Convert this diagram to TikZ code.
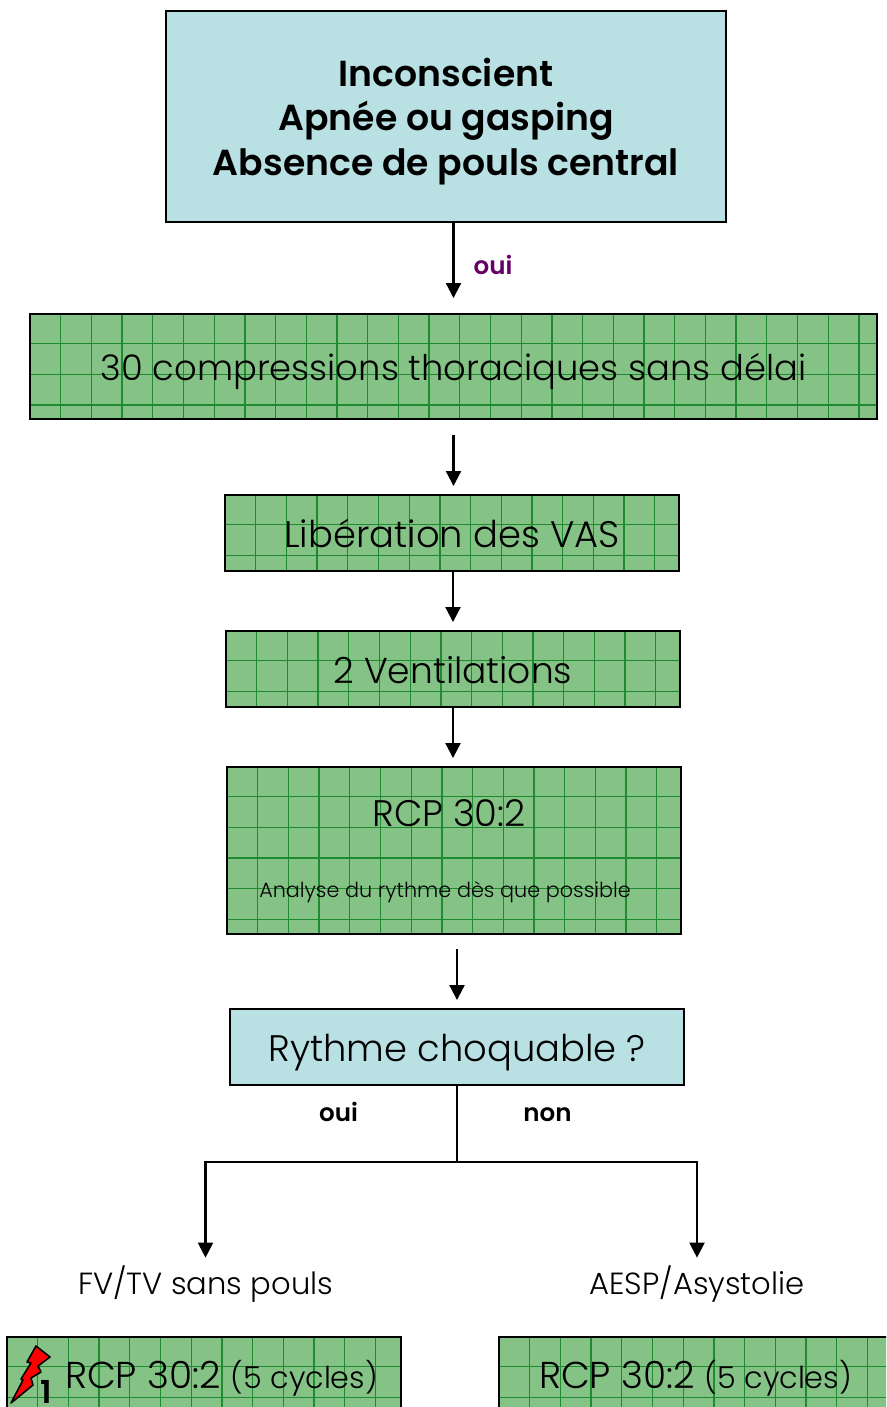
\documentclass[tikz,border=0pt]{standalone}
\usepackage{fontspec}
\setmainfont{Poppins Light}[BoldFont={Poppins SemiBold}]
\usetikzlibrary{arrows.meta,calc}
\definecolor{boxblue}{HTML}{B9E0E3}
\definecolor{boxgreen}{HTML}{85C285}
\definecolor{gridgreen}{HTML}{1F8A30}
\definecolor{ouipurple}{HTML}{660066}
\tikzset{
  bluebox/.style={shape=rectangle,draw=black,line width=1.1pt,fill=boxblue,inner sep=0pt},
  greenbox/.style={shape=rectangle,draw=black,line width=1.1pt,fill=boxgreen,inner sep=0pt,
    path picture={
      \foreach \gx in {1,...,28}{\draw[gridline] ($(path picture bounding box.north west)+(\gx*0.614,0)$) -- ++(0,-6);}
      \foreach \gy in {1,...,9}{\draw[gridline] ($(path picture bounding box.north west)+(0,-\gy*0.614+0.02)$) -- ++(18,0);}
    }},
  gridline/.style={draw=gridgreen,line width=0.7pt},
  flow/.style={line width=1.2pt,-{Triangle[width=0.3cm,length=0.3cm]}},
  plainflow/.style={line width=1.2pt},
  bigtext/.style={font=\fontsize{21}{25}\selectfont,text height=0.56cm,text depth=0pt},
  sidetext/.style={font=\fontsize{17.4}{20}\selectfont,text height=0.4cm,text depth=0pt},
  smalltext/.style={font=\fontsize{11.8}{14}\selectfont,text height=0.2cm,text depth=0pt},
  boldtext/.style={font=\fontsize{14}{16}\selectfont\bfseries,text height=0.36cm,text depth=0pt},
}
\begin{document}
\begin{tikzpicture}
            \useasboundingbox (0,0) rectangle (17.72,-28.14);
            \clip (0,0) rectangle (17.72,-28.14);

            % boxes
            \node[bluebox,minimum width=11.2cm,minimum height=4.22cm] (b1) at (8.92,-2.33) {};
            \node[greenbox,minimum width=16.94cm,minimum height=2.1cm,bigtext,font=\fontsize{20.1}{25}\selectfont] (b2) at (9.07,-7.33) {30 compressions thoraciques sans délai};
            \node[greenbox,minimum width=9.08cm,minimum height=1.52cm,bigtext] (b3) at (9.04,-10.66) {Libération des VAS};
            \node[greenbox,minimum width=9.08cm,minimum height=1.52cm,bigtext,font=\fontsize{20.5}{25}\selectfont] (b4) at (9.06,-13.38) {2 Ventilations};
            \node[greenbox,minimum width=9.08cm,minimum height=3.34cm] (b5) at (9.08,-17.01) {};
            \node[bluebox,minimum width=9.08cm,minimum height=1.52cm,bigtext] (b6) at (9.14,-20.94) {Rythme choquable ?};
            \node[greenbox,minimum width=7.88cm,minimum height=2.4cm] (b7) at (4.08,-27.94) {};
            \node[greenbox,minimum width=7.88cm,minimum height=2.4cm] (b8) at (13.92,-27.94) {};

            % texts
            \node[align=center,font=\fontsize{20.6}{25.3}\selectfont\bfseries] (t1) at (8.92,-2.43) {Inconscient\\Apnée ou gasping\\Absence de pouls central};
            \node[bigtext] (t5a) at (8.98,-16.24) {RCP 30:2};
            \node[smalltext] (t5b) at (8.9,-17.84) {Analyse du rythme dès que possible};
            \node[bigtext,font=\fontsize{21.3}{25}\selectfont] (t7) at (4.43,-27.48) {RCP 30:2 {\fontsize{17.2}{20}\selectfont (5 cycles)}};
            \node[bigtext,font=\fontsize{21.3}{25}\selectfont] (t8) at (13.91,-27.48) {RCP 30:2 {\fontsize{17.2}{20}\selectfont (5 cycles)}};
            \node[sidetext,minimum height=0.6cm,inner sep=0pt] (fv) at (4.11,-25.68) {FV/TV sans pouls};
            \node[sidetext,minimum height=0.6cm,inner sep=0pt] (ae) at (13.94,-25.68) {AESP/Asystolie};
            \node[boldtext,text=ouipurple] (l1) at (9.86,-5.3) {oui};
            \node[boldtext] (l2) at (6.77,-22.24) {oui};
            \node[boldtext] (l3) at (10.95,-22.24) {non};

            % shock
            \draw[draw=black,line width=0.9pt,fill=red,line join=round] (0.22,-28.06) -- (0.46,-27.6) -- (0.42,-27.58) -- (0.62,-27.26) -- (0.54,-27.24) -- (0.72,-26.92) -- (1,-27.14) -- (0.76,-27.32) -- (0.82,-27.44) -- (0.62,-27.56) -- (0.66,-27.7) -- cycle;
            \node[font=\fontsize{18}{20}\selectfont\bfseries,inner sep=0pt] (n1) at (0.93,-27.84) {1};

            % edges
            \coordinate (j) at (9.14,-23.24);
            \path [flow,shorten >=0.3cm](b2.north |- b1.south) edge (b2.north);
            \path [flow,shorten <=0.3cm,shorten >=0.16cm](b2.south) edge (b2.south |- b3.north);
            \path [flow,shorten >=0.16cm](b3.south -| b4.south) edge (b4.north);
            \path [flow,shorten >=0.16cm](b4.south) edge (b4.south |- b5.north);
            \path [flow,shorten <=0.28cm,shorten >=0.16cm](b6.north |- b5.south) edge (b6.north);
            \path [plainflow](b6.south) edge (j);
            \draw [flow,shorten >=0.22cm](j) -| (fv.north);
            \draw [flow,shorten >=0.22cm](j) -| (ae.north);
\end{tikzpicture}
\end{document}
